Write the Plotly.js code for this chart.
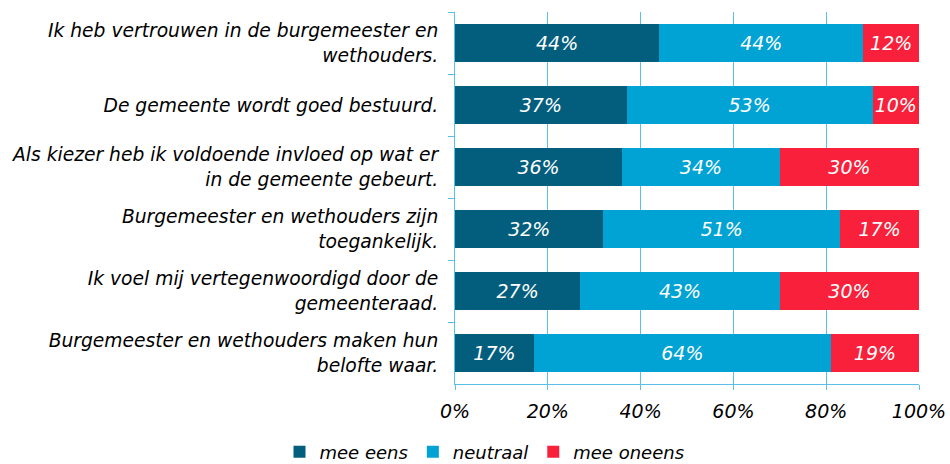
<!DOCTYPE html>
<html>
<head>
<meta charset="utf-8">
<script src="https://cdn.plot.ly/plotly-3.0.1.min.js"></script>
<style>html,body{margin:0;padding:0;background:#fff;}#chart{width:950px;height:464px;}</style>
</head>
<body>
<div id="chart"></div>
<script>
const categories = [
  "Ik heb vertrouwen in de burgemeester en<br>wethouders.",
  "De gemeente wordt goed bestuurd.",
  "Als kiezer heb ik voldoende invloed op wat er<br>in de gemeente gebeurt.",
  "Burgemeester en wethouders zijn<br>toegankelijk.",
  "Ik voel mij vertegenwoordigd door de<br>gemeenteraad.",
  "Burgemeester en wethouders maken hun<br>belofte waar."
];
const meeEens = [44, 37, 36, 32, 27, 17];
const neutraal = [44, 53, 34, 51, 43, 64];
const meeOneens = [12, 10, 30, 17, 30, 19];
const seriesNames = ["mee eens", "neutraal", "mee oneens"];
const xTickVals = [0, 20, 40, 60, 80, 100];
const xTickText = ["0%", "20%", "40%", "60%", "80%", "100%"];

const colors = ["#035E7D", "#00A3D3", "#F8203A"];
const font = "DejaVu Sans, Verdana, sans-serif";
const seriesData = [meeEens, neutraal, meeOneens];

const traces = seriesData.map((vals, i) => ({
  type: "bar",
  orientation: "h",
  name: seriesNames[i],
  y: categories,
  x: vals,
  marker: {color: colors[i], line: {width: 0}},
  texttemplate: "%{x}%",
  textposition: "inside",
  insidetextanchor: "middle",
  textangle: 0,
  constraintext: "none",
  textfont: {family: font, size: 19, color: "#ffffff", style: "italic"},
  hoverinfo: "skip"
}));

const layout = {
  width: 950, height: 464,
  margin: {l: 455, r: 31, t: 12, b: 80},
  barmode: "stack",
  bargap: 0.38,
  paper_bgcolor: "#ffffff",
  plot_bgcolor: "#ffffff",
  showlegend: true,
  legend: {
    orientation: "h", xref: "container", yref: "container",
    x: 0.51, xanchor: "center", y: 0.026, yanchor: "middle",
    traceorder: "normal",
    font: {family: font, size: 18, color: "#000", style: "italic"},
    itemwidth: 30, tracegroupgap: 0
  },
  xaxis: {
    range: [0, 100], tickvals: xTickVals, ticktext: xTickText,
    showgrid: true, gridcolor: "#5BC0E8", gridwidth: 1,
    zeroline: false, showline: true, linecolor: "#5BC0E8", linewidth: 1,
    ticks: "outside", ticklen: 5, tickcolor: "#5BC0E8",
    tickfont: {family: font, size: 19, color: "#000", style: "italic"},
    ticklabelstandoff: 5,
    fixedrange: true
  },
  yaxis: {
    type: "category", autorange: "reversed",
    showline: true, linecolor: "#5BC0E8", linewidth: 1,
    ticks: "outside", ticklen: 6, tickcolor: "#5BC0E8", tickson: "boundaries",
    showgrid: false, zeroline: false,
    tickfont: {family: font, size: 18.7, color: "#000", style: "italic"},
    ticklabelstandoff: 12,
    fixedrange: true
  }
};

Plotly.newPlot("chart", traces, layout, {displayModeBar: false, staticPlot: true});
</script>
</body>
</html>
